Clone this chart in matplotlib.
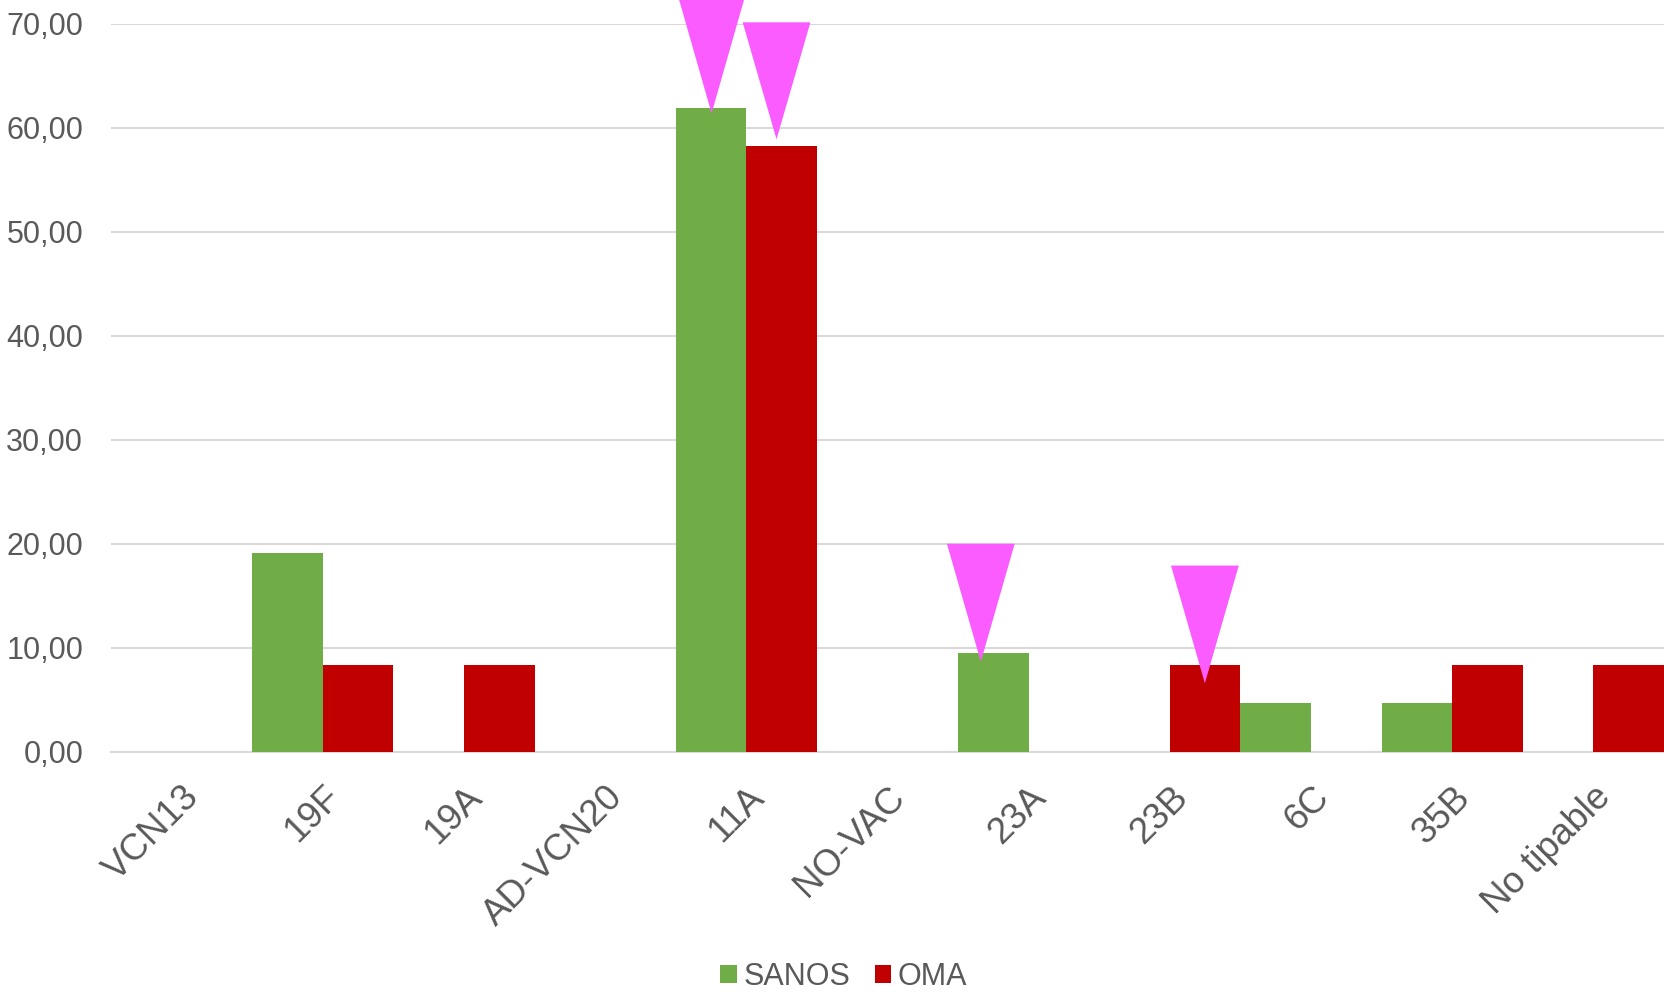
"""
Serotipos: porcentaje por grupo (SANOS vs OMA), con marcas de triángulo.
"""

import matplotlib
matplotlib.use("Agg")
import matplotlib.pyplot as plt
import numpy as np
from matplotlib.patches import Patch, Polygon

# --- data ---------------------------------------------------------------
categories = ["VCN13", "19F", "19A", "AD-VCN20", "11A", "NO-VAC",
              "23A", "23B", "6C", "35B", "No tipable"]
sanos = [0.0, 19.1, 0.0, 0.0, 61.9, 0.0, 9.5, 0.0, 4.7, 4.7, 0.0]
oma = [0.0, 8.3, 8.3, 0.0, 58.3, 0.0, 0.0, 8.3, 0.0, 8.3, 8.3]

# highlight triangles (x in category units, tip and top value)
tri_x = [3.754, 4.214, 5.661, 7.248]
tri_tip = [61.4, 58.9, 8.65, 6.58]
tri_top = [72.8, 70.16, 20.0, 17.9]

yticks = [0, 10, 20, 30, 40, 50, 60, 70]

GREEN = "#70AD47"
RED = "#C00000"
PINK = "#FA5CFF"
GRID = "#D9D9D9"
TEXT = "#595959"

plt.rcParams["font.family"] = ["Liberation Sans", "DejaVu Sans"]

fig = plt.figure(figsize=(16.64, 9.94), dpi=100)
ax = fig.add_axes([0.0667, 0.2438, 0.9333, 0.7321])

x = np.arange(len(categories))
w = 0.5
ax.bar(x - w / 2, sanos, width=w, color=GREEN, zorder=3)
ax.bar(x + w / 2, oma, width=w, color=RED, zorder=3)

# triangles pointing down
half = 0.24
for cx, tip, top in zip(tri_x, tri_tip, tri_top):
    tri = Polygon([(cx - half, top), (cx + half, top), (cx, tip)],
                  closed=True, facecolor=PINK, edgecolor="none",
                  zorder=5, clip_on=False)
    ax.add_patch(tri)

ax.set_xlim(-0.5, len(categories) - 0.5)
ax.set_ylim(0, 70)
ax.set_yticks(yticks)
ax.set_yticklabels([f"{v:.2f}".replace(".", ",") for v in yticks])
ax.set_xticks(x)
ax.set_xticklabels(categories, rotation=45, ha="right", va="top",
                   rotation_mode="anchor", fontsize=26.5)

ax.grid(axis="y", color=GRID, linewidth=1.5, zorder=0)
for side in ["top", "right", "left"]:
    ax.spines[side].set_visible(False)
ax.spines["bottom"].set_color(GRID)
ax.spines["bottom"].set_linewidth(1.5)
ax.tick_params(axis="both", length=0, labelsize=22, colors=TEXT)
ax.tick_params(axis="x", labelsize=26.5, pad=20)
ax.tick_params(axis="y", pad=20)

handles = [Patch(facecolor=GREEN, label="SANOS"),
           Patch(facecolor=RED, label="OMA")]
fig.legend(handles=handles, loc="center", bbox_to_anchor=(0.507, 0.017),
           ncol=2, frameon=False, fontsize=22, labelcolor=TEXT,
           handlelength=0.55, handleheight=0.55, handletextpad=0.2,
           columnspacing=0.8)

fig.savefig("out.png", dpi=100)
